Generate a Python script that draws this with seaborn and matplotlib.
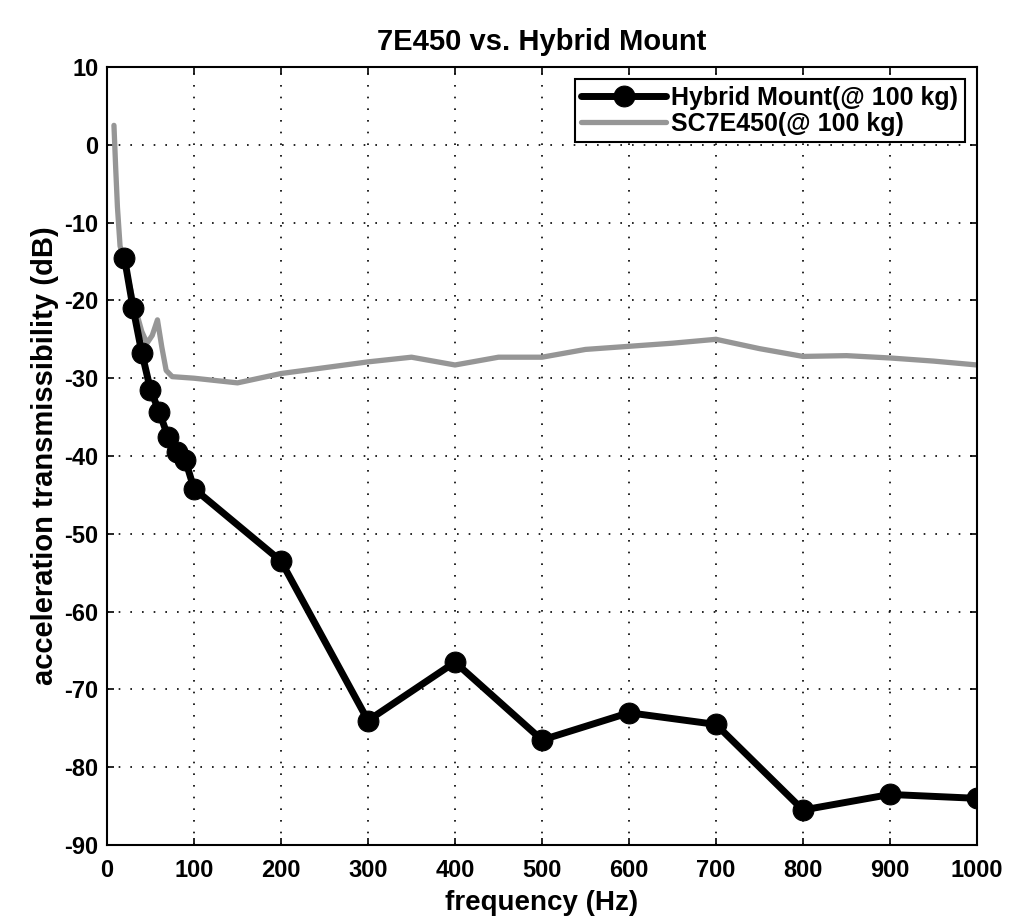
import matplotlib
matplotlib.use("Agg")
import matplotlib.pyplot as plt
import seaborn as sns
import pandas as pd

hyb_freq = [20, 30, 40, 50, 60, 70, 80, 90, 100, 200, 300, 400, 500, 600, 700, 800, 900, 1000]
hyb_db = [-14.5, -21, -26.7, -31.5, -34.3, -37.5, -39.5, -40.5, -44.2, -53.5, -74, -66.5, -76.5, -73, -74.5, -85.5, -83.5, -84]

sc_freq = [8, 10, 12, 15, 20, 30, 40, 46, 52, 58, 63, 68, 75, 100, 150, 200, 300, 350, 400, 450, 500,
           550, 600, 650, 700, 750, 800, 850, 900, 950, 1000]
sc_db = [2.5, -3, -8, -13, -15, -20, -24, -25.5, -24.5, -22.5, -26, -29, -29.8, -30, -30.6, -29.4, -27.9,
         -27.3, -28.3, -27.3, -27.3, -26.3, -25.9, -25.5, -25, -26.2, -27.2, -27.1, -27.4, -27.8, -28.3]

xticks = [0, 100, 200, 300, 400, 500, 600, 700, 800, 900, 1000]
yticks = [10, 0, -10, -20, -30, -40, -50, -60, -70, -80, -90]

sns.set_style("ticks")
plt.rcParams['font.family'] = ['Liberation Sans', 'DejaVu Sans']
plt.rcParams['font.weight'] = 'bold'
plt.rcParams['axes.unicode_minus'] = False
plt.rcParams['text.color'] = 'black'
plt.rcParams['axes.labelcolor'] = 'black'
plt.rcParams['xtick.color'] = 'black'
plt.rcParams['ytick.color'] = 'black'

fig = plt.figure(figsize=(10.19, 9.19), dpi=100)
ax = fig.add_axes([0.105, 0.0805, 0.8538, 0.8466])

df_h = pd.DataFrame({"f": hyb_freq, "db": hyb_db})
df_s = pd.DataFrame({"f": sc_freq, "db": sc_db})

sns.lineplot(data=df_h, x="f", y="db", ax=ax, color="black", linewidth=5.0, marker="o",
             markersize=15, markeredgecolor="black", label="Hybrid Mount(@ 100 kg)", zorder=3)
sns.lineplot(data=df_s, x="f", y="db", ax=ax, color="#969696", linewidth=3.8,
             label="SC7E450(@ 100 kg)", zorder=2)

ax.set_xlim(0, 1000)
ax.set_ylim(-90, 10)
ax.set_xticks(xticks)
ax.set_yticks(yticks)
ax.grid(True, linestyle=(0, (1, 6)), color="black", linewidth=1.2)
for s in ax.spines.values():
    s.set_linewidth(1.5)
    s.set_color("black")
ax.tick_params(direction="in", length=5, width=1.2, labelsize=17, top=True, right=True, pad=6)
ax.tick_params(axis="x", pad=10)
for lbl in ax.get_xticklabels() + ax.get_yticklabels():
    lbl.set_fontweight("bold")
ax.set_xlabel("frequency (Hz)", fontsize=20, fontweight="bold", labelpad=6)
ax.set_ylabel("acceleration transmissibility (dB)", fontsize=21, fontweight="bold", labelpad=4)
ax.set_title("7E450 vs. Hybrid Mount", fontsize=21, fontweight="bold", pad=12)

leg = ax.legend(loc="upper right", fontsize=18, frameon=True, fancybox=False,
                handlelength=3.4, handletextpad=0.2, borderaxespad=0.5, borderpad=0.25,
                labelspacing=0.1, edgecolor="black", framealpha=1)
leg.get_frame().set_linewidth(1.5)
for t in leg.get_texts():
    t.set_fontweight("bold")

fig.savefig("out.png", dpi=100)
